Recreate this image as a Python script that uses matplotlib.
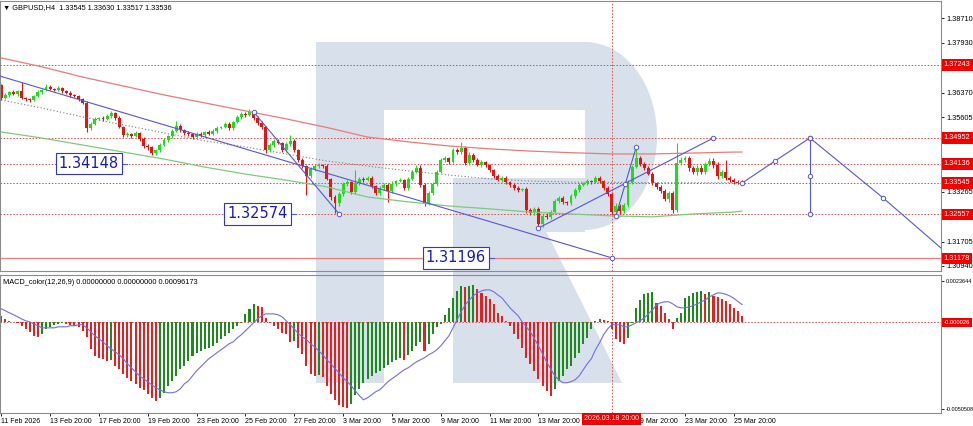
import numpy as np
import matplotlib
matplotlib.use("Agg")
import matplotlib.pyplot as plt
from matplotlib.patches import Rectangle, Polygon

plt.rcParams['font.family'] = ['Liberation Sans', 'DejaVu Sans']

# GBPUSD H4, one close per bar (open = previous close)
first_open = 1.3661
closes = [
    1.3620, 1.3630, 1.3639, 1.3633, 1.3642, 1.3620, 1.3617, 1.3614, 1.3627, 1.3639,
    1.3645, 1.3655, 1.3649, 1.3645, 1.3652, 1.3642, 1.3636, 1.3630, 1.3627, 1.3617,
    1.3605, 1.3526, 1.3539, 1.3555, 1.3558, 1.3555, 1.3564, 1.3573, 1.3558, 1.3530,
    1.3504, 1.3508, 1.3501, 1.3511, 1.3492, 1.3470, 1.3467, 1.3448, 1.3457, 1.3473,
    1.3489, 1.3501, 1.3517, 1.3533, 1.3520, 1.3511, 1.3508, 1.3498, 1.3508, 1.3504,
    1.3514, 1.3508, 1.3517, 1.3526, 1.3530, 1.3539, 1.3526, 1.3545, 1.3561, 1.3570,
    1.3567, 1.3577, 1.3558, 1.3542, 1.3530, 1.3457, 1.3473, 1.3486, 1.3479, 1.3457,
    1.3476, 1.3486, 1.3457, 1.3426, 1.3407, 1.3376, 1.3398, 1.3407, 1.3410, 1.3407,
    1.3367, 1.3310, 1.3291, 1.3320, 1.3351, 1.3357, 1.3326, 1.3354, 1.3367, 1.3363,
    1.3370, 1.3345, 1.3323, 1.3338, 1.3348, 1.3329, 1.3351, 1.3360, 1.3363, 1.3338,
    1.3367, 1.3389, 1.3401, 1.3348, 1.3291, 1.3323, 1.3351, 1.3389, 1.3426, 1.3432,
    1.3420, 1.3457, 1.3451, 1.3464, 1.3417, 1.3442, 1.3426, 1.3410, 1.3420, 1.3410,
    1.3395, 1.3376, 1.3363, 1.3370, 1.3357, 1.3348, 1.3338, 1.3332, 1.3335, 1.3269,
    1.3260, 1.3273, 1.3226, 1.3251, 1.3248, 1.3263, 1.3298, 1.3307, 1.3295, 1.3291,
    1.3313, 1.3332, 1.3348, 1.3354, 1.3360, 1.3357, 1.3370, 1.3360, 1.3338, 1.3320,
    1.3263, 1.3282, 1.3266, 1.3285, 1.3357, 1.3404, 1.3432, 1.3414, 1.3401, 1.3382,
    1.3354, 1.3341, 1.3329, 1.3304, 1.3323, 1.3269, 1.3417, 1.3426, 1.3432, 1.3401,
    1.3389, 1.3401, 1.3389, 1.3414, 1.3423, 1.3410, 1.3376, 1.3389, 1.3370, 1.3363,
    1.3357, 1.33545, 1.33536,
]
# wicks in pips above the body / below the body
up_wick = [
    4, 5, 3, 6, 4, 28, 5, 3, 4, 6,
    4, 9, 5, 3, 6, 4, 3, 5, 4, 3,
    4, 6, 5, 7, 4, 5, 6, 8, 4, 5,
    3, 6, 4, 5, 3, 6, 7, 4, 5, 6,
    5, 4, 6, 16, 5, 4, 6, 3, 7, 5,
    4, 6, 5, 7, 4, 6, 5, 4, 6, 8,
    5, 9, 4, 6, 5, 4, 6, 7, 5, 4,
    6, 19, 5, 4, 6, 5, 7, 6, 8, 5,
    6, 4, 5, 7, 6, 5, 4, 40, 6, 7,
    5, 6, 4, 7, 5, 6, 8, 5, 6, 4,
    6, 7, 8, 9, 5, 6, 7, 5, 6, 8,
    5, 7, 6, 19, 5, 8, 6, 5, 7, 4,
    5, 4, 6, 5, 7, 4, 5, 6, 4, 5,
    6, 7, 5, 6, 8, 5, 7, 6, 5, 4,
    6, 5, 7, 4, 6, 5, 7, 6, 5, 8,
    6, 9, 5, 7, 6, 8, 31, 6, 5, 7,
    5, 4, 6, 5, 7, 6, 63, 9, 8, 7,
    6, 8, 9, 7, 10, 8, 9, 6, 38, 7,
    6, 5, 9,
]
low_wick = [
    5, 4, 6, 3, 5, 4, 6, 5, 3, 4,
    6, 3, 5, 4, 3, 5, 4, 6, 3, 5,
    4, 12, 6, 4, 5, 7, 4, 5, 6, 4,
    7, 5, 6, 4, 5, 6, 8, 7, 6, 5,
    4, 6, 5, 4, 6, 5, 7, 6, 4, 5,
    6, 4, 5, 6, 4, 5, 7, 5, 4, 6,
    5, 4, 6, 5, 7, 9, 5, 6, 4, 6,
    5, 6, 7, 5, 6, 60, 6, 5, 7, 6,
    5, 8, 31, 9, 6, 5, 7, 6, 5, 6,
    4, 6, 7, 5, 6, 34, 5, 6, 4, 7,
    6, 5, 4, 6, 9, 7, 5, 6, 4, 6,
    5, 4, 6, 5, 7, 6, 5, 4, 6, 5,
    6, 5, 4, 6, 5, 7, 6, 5, 4, 8,
    6, 7, 12, 9, 6, 8, 5, 7, 6, 5,
    7, 6, 5, 4, 6, 5, 4, 6, 5, 7,
    9, 8, 10, 7, 6, 5, 4, 6, 5, 4,
    6, 5, 7, 6, 8, 9, 7, 6, 5, 8,
    7, 9, 6, 8, 7, 9, 8, 6, 5, 7,
    6, 5, 2,
]

# MACD histogram and signal, in units of 1e-5
macd_hist = [
    35, 17, 6, -3, -6, -23, -41, -58, -81, -87,
    -69, -41, -29, -17, -12, -9, -12, -17, -23, -29,
    -52, -87, -156, -197, -208, -214, -226, -220, -255, -272,
    -301, -324, -342, -359, -382, -394, -417, -440, -457, -440,
    -411, -371, -342, -313, -272, -255, -226, -197, -179, -168,
    -156, -151, -139, -122, -98, -81, -64, -41, -23, -6,
    46, 75, 104, 93, 87, 23, -6, -23, -41, -64,
    -69, -116, -110, -151, -185, -255, -301, -313, -307, -318,
    -371, -417, -452, -481, -492, -498, -475, -423, -388, -353,
    -330, -313, -295, -284, -266, -249, -232, -220, -208, -220,
    -191, -168, -139, -116, -168, -127, -69, -29, -12, 41,
    81, 139, 179, 208, 203, 208, 214, 191, 168, 151,
    133, 104, 52, 35, 6, -23, -69, -98, -151, -208,
    -243, -284, -330, -371, -400, -428, -388, -342, -313, -272,
    -255, -208, -179, -127, -93, -41, 6, 17, 12, 6,
    -41, -98, -116, -127, -93, -6, 81, 127, 162, 168,
    174, 110, 93, 52, 17, -41, 23, 52, 139, 151,
    168, 174, 179, 162, 174, 151, 145, 133, 122, 104,
    81, 64, 35,
]
macd_signal = [
    75, 64, 52, 41, 29, 17, 6, 0, -12, -23,
    -35, -35, -35, -35, -29, -29, -29, -23, -23, -17,
    -17, -35, -58, -81, -98, -116, -139, -156, -174, -191,
    -214, -243, -266, -290, -313, -330, -347, -365, -382, -394,
    -405, -411, -411, -405, -388, -359, -342, -313, -284, -261,
    -237, -214, -197, -179, -162, -145, -127, -116, -93, -75,
    -52, -29, -6, 17, 35, 46, 46, 46, 41, 29,
    6, -17, -41, -69, -87, -104, -127, -145, -168, -191,
    -220, -243, -272, -295, -324, -347, -371, -400, -428, -452,
    -440, -423, -405, -394, -371, -347, -330, -313, -295, -278,
    -266, -249, -232, -220, -208, -191, -179, -162, -139, -110,
    -81, -35, 12, 58, 98, 127, 151, 168, 179, 185,
    185, 174, 156, 139, 110, 81, 58, 35, 0, -29,
    -58, -98, -139, -185, -232, -272, -313, -336, -353, -353,
    -347, -336, -313, -278, -243, -214, -162, -122, -75, -41,
    -17, -17, -17, -29, -29, -17, -6, 6, 23, 46,
    69, 98, 110, 116, 116, 104, 87, 81, 81, 87,
    93, 104, 116, 127, 145, 156, 168, 166, 160, 150,
    136, 118, 100,
]

# moving averages, sampled every 10 bars
ma_bars = [0, 10, 20, 30, 40, 50, 60, 70, 80, 90, 100, 110, 120, 130, 140, 150, 160, 170, 180, 182]
ma_red = [1.3746, 1.3718, 1.3686, 1.3658, 1.3630, 1.3605, 1.3580, 1.3555, 1.3528, 1.3498,
          1.3483, 1.3470, 1.3461, 1.3454, 1.3449, 1.3445, 1.3445, 1.3448, 1.3451, 1.3451]
ma_green = [1.3514, 1.3495, 1.3473, 1.3451, 1.3429, 1.3404, 1.3382, 1.3363, 1.3342, 1.3310,
            1.3295, 1.3282, 1.3273, 1.3263, 1.3257, 1.3251, 1.3248, 1.3257, 1.3263, 1.3266]
ma_gray = [1.3614, 1.3589, 1.3561, 1.3536, 1.3511, 1.3486, 1.3467, 1.3445, 1.3423, 1.3407,
           1.3392, 1.3379, 1.3367, 1.3360, 1.3357, 1.3356, 1.3355, 1.3355, 1.3355, 1.3355]

levels = [1.37243, 1.34952, 1.34136, 1.33545, 1.32557]
solid_level = 1.31178
price_ticks = [1.38710, 1.37930, 1.36370, 1.35605, 1.33265, 1.31705, 1.30940]
macd_ticks = [0.0023644, -0.0050508]
macd_ticklabels = ["0.0023644", "-0.0050508"]
macd_level = -0.000026

date_bars = [0, 12, 24, 36, 48, 60, 72, 84, 96, 108, 120, 132, 156, 168, 180]
date_labels = ["11 Feb 2026", "13 Feb 20:00", "17 Feb 20:00", "19 Feb 20:00", "23 Feb 20:00",
               "25 Feb 20:00", "27 Feb 20:00", "3 Mar 20:00", "5 Mar 20:00", "9 Mar 20:00",
               "11 Mar 20:00", "13 Mar 20:00", "19 Mar 20:00", "23 Mar 20:00", "25 Mar 20:00"]
cross_bar = 150
cross_label = "2026.03.18 20:00"

# hand-drawn analysis objects (bar, price)
trend_a = ([-0.3, 150], [1.3689, 1.31196])
trend_b = ([62, 83], [1.3577, 1.32574])
trend_c = ([132, 175], [1.3213, 1.34952])
trend_d = ([151, 153.3, 156], [1.3250, 1.3350, 1.3466])
proj = ([182, 190.1, 198.7, 216.7, 236], [1.33536, 1.3423, 1.34952, 1.3307, 1.3094])
proj_vert = ([198.7, 198.7, 198.7], [1.34952, 1.33755, 1.32557])
tag_texts = ["1.34148", "1.32574", "1.31196"]
tag_bars = [30.9, 72.4, 121.1]
tag_prices = [1.34148, 1.32574, 1.31196]

header = "\u25BC GBPUSD,H4  1.33545 1.33630 1.33517 1.33536"
macd_header = "MACD_color(12,26,9) 0.00000000 0.00000000 0.00096173"

# ---------------------------------------------------------------
W, H = 973, 426
fig = plt.figure(figsize=(W / 100, H / 100), dpi=100)


def box(l, t, r, b):
    return [l / W, 1 - b / H, (r - l) / W, (b - t) / H]


# watermark logo behind both panels
bg = fig.add_axes([0, 0, 1, 1], zorder=0)
bg.set_xlim(0, W)
bg.set_ylim(H, 0)
bg.axis('off')
logo = '#d7e0eb'
bg.add_patch(Rectangle((316, 42), 68, 341, color=logo, lw=0))
bg.add_patch(Rectangle((384, 42), 201, 68, color=logo, lw=0))
t = np.linspace(-np.pi / 2, np.pi / 2, 80)
bg.add_patch(Polygon(np.c_[585 + 72 * np.cos(t), 136 + 94 * np.sin(t)], color=logo, lw=0))
bg.add_patch(Rectangle((453, 178), 132, 54, color=logo, lw=0))
bg.add_patch(Polygon([(453, 231), (546, 231), (622, 383), (453, 383)], color=logo, lw=0))

ax = fig.add_axes(box(0, 1, 941, 271), zorder=1)
am = fig.add_axes(box(0, 275, 941, 413), zorder=1)
for a in (ax, am):
    a.patch.set_alpha(0)
    a.set_xlim(-0.3, 230.9)
    for s in a.spines.values():
        s.set_color('#8c8c8c')
        s.set_linewidth(0.8)
    a.yaxis.tick_right()

ax.set_ylim(1.30783, 1.39243)
am.set_ylim(-0.0052824, 0.0027120)

# candles
c = np.array(closes)
o = np.r_[first_open, c[:-1]]
hi = np.maximum(o, c) + np.array(up_wick) * 1e-4
lo = np.minimum(o, c) - np.array(low_wick) * 1e-4
idx = np.arange(len(c))
bull = c >= o
col = np.where(bull, '#1fdc1f', '#e41414')
ax.vlines(idx, lo, hi, colors=col, lw=0.8, zorder=2)
ax.bar(idx, np.maximum(np.abs(c - o), 0.00012), bottom=np.minimum(o, c), width=0.72,
       color=col, lw=0, zorder=2)

# moving averages
ax.plot(ma_bars, ma_red, color='#ec7a7a', lw=0.9, zorder=3)
ax.plot(ma_bars, ma_green, color='#7ccc7c', lw=0.9, zorder=3)
ax.plot(ma_bars, ma_gray, color='#7a7a7a', lw=0.8, ls=(0, (1, 2)), zorder=3)

# horizontal levels and crosshair
dots = (0, (1.5, 1.8))
for lv in levels:
    ax.axhline(lv, color='#e04848', lw=0.7, ls=dots, zorder=1)
ax.axhline(solid_level, color='#f07c7c', lw=0.9, zorder=1)
ax.axvline(cross_bar, color='#e04848', lw=0.7, ls=dots, zorder=1)
am.axvline(cross_bar, color='#e04848', lw=0.7, ls=dots, zorder=1)
am.axhline(macd_level, color='#e04848', lw=0.7, ls=dots, zorder=1)

# drawings
blue = '#5656d8'
mk = dict(marker='o', ms=3.2, mfc='white', mew=0.7)
ax.plot(*trend_a, color=blue, lw=0.8, zorder=4, markevery=[1], **mk)
for ln in (trend_b, trend_c, trend_d, proj_vert):
    ax.plot(*ln, color=blue, lw=0.8, zorder=4, **mk)
ax.plot(*proj, color=blue, lw=0.8, zorder=4, markevery=[0, 1, 2, 3], **mk)

for txt, b, p in zip(tag_texts, tag_bars, tag_prices):
    ax.plot([b - 1.3, b], [p, p], color=blue, lw=0.8, zorder=5)
    ax.text(b - 2.0, p, txt, ha='right', va='center', fontsize=10.5, color='#1a1ab8', zorder=6,
            family='DejaVu Sans',
            bbox=dict(boxstyle='square,pad=0.22', fc='white', ec='#3434c8', lw=0.8))

# price axis labels
ax.set_yticks(price_ticks)
ax.set_yticklabels([f"{p:.5f}" for p in price_ticks])
ax.tick_params(axis='y', labelsize=5.3, length=2.5, width=0.6, pad=1.5)
ax.set_xticks([])
red_box = dict(boxstyle='square,pad=0.3', fc='#f20000', ec='none')
for lv in levels + [solid_level]:
    ax.text(1.003, lv, f"{lv:.5f}", transform=ax.get_yaxis_transform(), fontsize=5.3,
            color='white', va='center', ha='left', bbox=red_box, clip_on=False, zorder=6)
ax.text(0.003, 0.988, header, transform=ax.transAxes, fontsize=5.3, va='top', ha='left')

# MACD
m = np.array(macd_hist) * 1e-5
rising = np.r_[True, m[1:] >= m[:-1]]
am.bar(idx, m, width=0.5, color=np.where(rising, '#1e8a1e', '#e42020'), lw=0, zorder=2)
am.plot(idx, np.array(macd_signal) * 1e-5, color='#7070dc', lw=0.8, zorder=3)
am.set_yticks(macd_ticks)
am.set_yticklabels(macd_ticklabels)
am.tick_params(axis='y', labelsize=4.0, length=2.5, width=0.6, pad=1.2)
am.text(1.003, macd_level, f"{macd_level:.6f}", transform=am.get_yaxis_transform(), fontsize=4.2,
        color='white', va='center', ha='left', bbox=red_box, clip_on=False, zorder=6)
am.text(0.003, 0.97, macd_header, transform=am.transAxes, fontsize=5.3, va='top', ha='left')

am.set_xticks(date_bars)
am.set_xticklabels(date_labels)
for lab in am.get_xticklabels():
    lab.set_ha('left')
am.tick_params(axis='x', labelsize=5, length=2.5, width=0.6, pad=1.2)
am.text(cross_bar, -0.018, cross_label, transform=am.get_xaxis_transform(), fontsize=5,
        color='white', va='top', ha='center', bbox=red_box, clip_on=False, zorder=6)

fig.savefig('out.png', dpi=100, facecolor='white')
